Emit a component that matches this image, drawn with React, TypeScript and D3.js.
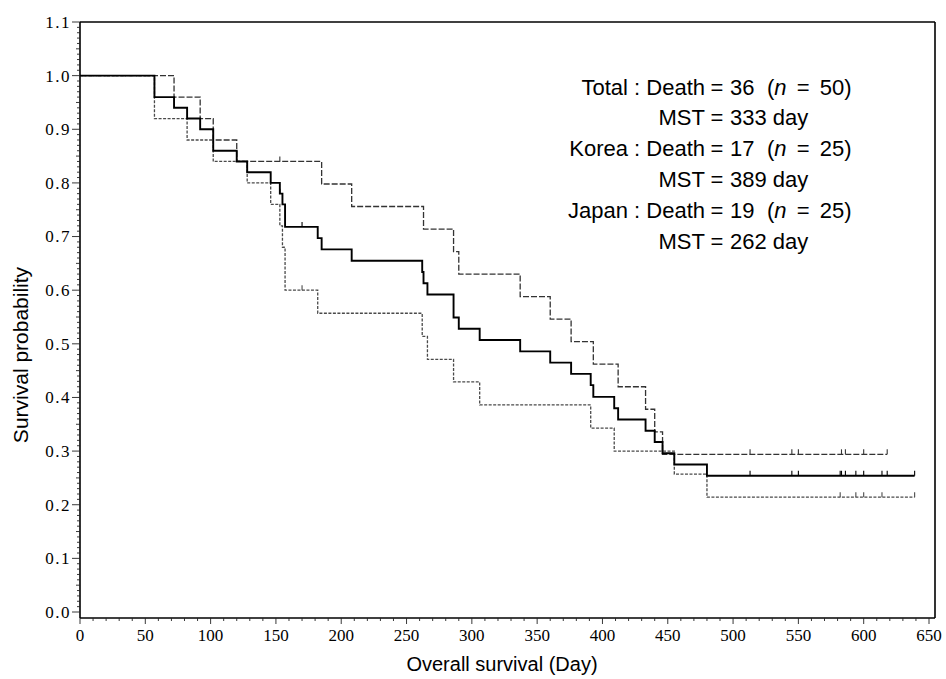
import React from 'react';
import * as d3 from 'd3';

// Kaplan-Meier steps (day, survival after the event)
const koreaDays = [0, 72, 92, 102, 120, 185, 208, 263, 286, 290, 337, 360, 376, 393, 412, 433, 440, 446, 618];
const koreaSurv = [1, 0.96, 0.92, 0.88, 0.84, 0.798, 0.756, 0.714, 0.672, 0.63, 0.588, 0.546, 0.504, 0.462, 0.42, 0.378, 0.336, 0.294, 0.294];
const koreaCensor = [153, 513, 545, 550, 583, 586, 600, 618];

const japanDays = [0, 57, 82, 102, 128, 146, 153, 155, 157, 182, 262, 266, 286, 306, 391, 409, 455, 480, 639];
const japanSurv = [1, 0.92, 0.88, 0.84, 0.8, 0.76, 0.72, 0.68, 0.6, 0.557, 0.514, 0.471, 0.429, 0.386, 0.343, 0.3, 0.257, 0.214, 0.214];
const japanCensor = [170, 582, 594, 600, 614, 639];

const totalDays = [0, 57, 72, 82, 92, 102, 120, 128, 146, 153, 155, 157, 182, 185, 208, 262, 263, 266, 286, 290, 306, 337, 360, 376, 391, 393, 409, 412, 433, 440, 446, 455, 480, 639];
const totalSurv = [1, 0.96, 0.94, 0.92, 0.9, 0.86, 0.84, 0.82, 0.8, 0.78, 0.76, 0.718, 0.697, 0.676, 0.655, 0.634, 0.613, 0.592, 0.549, 0.528, 0.507, 0.486, 0.465, 0.444, 0.423, 0.401, 0.38, 0.359, 0.338, 0.317, 0.296, 0.275, 0.254, 0.254];
const totalCensor = [153, 170, 513, 545, 550, 582, 583, 586, 594, 600, 614, 618, 639];

const xTicks = [0, 50, 100, 150, 200, 250, 300, 350, 400, 450, 500, 550, 600, 650];
const yTicks = [0, 0.1, 0.2, 0.3, 0.4, 0.5, 0.6, 0.7, 0.8, 0.9, 1.0, 1.1];

const groupNames = ['Total', 'Korea', 'Japan'];
const groupDeaths = [36, 17, 19];
const groupN = [50, 25, 25];
const groupMST = [333, 389, 262];

const W = 946, H = 679;
const left = 80, right = 929, top = 22, zeroY = 612, axisY = 618, frameRight = 935;

const serif = '"Liberation Serif", "DejaVu Serif", serif';
const sans = '"Liberation Sans", Arial, sans-serif';

export default function App() {
  const x = d3.scaleLinear().domain([0, 650]).range([left, right]);
  const y = d3.scaleLinear().domain([0, 1.1]).range([zeroY, top]);

  const line = d3.line<[number, number]>()
    .x(d => x(d[0]))
    .y(d => y(d[1]))
    .curve(d3.curveStepAfter);

  const survAt = (days: number[], surv: number[], t: number) => {
    let s = surv[0];
    days.forEach((d, i) => { if (d <= t) s = surv[i]; });
    return s;
  };

  const series = [
    { days: japanDays, surv: japanSurv, censor: japanCensor, color: '#4a4a4a', width: 1.3, dash: '3,1.5' },
    { days: koreaDays, surv: koreaSurv, censor: koreaCensor, color: '#333', width: 1.3, dash: '6,2' },
    { days: totalDays, surv: totalSurv, censor: totalCensor, color: '#000', width: 1.9, dash: null },
  ];

  const yMinor = d3.range(0, 111).map(i => i / 100);
  const xMinor = d3.range(0, 651, 10);

  const rowY = [95, 125, 156, 187, 218, 249];
  const eqX = 717;

  return (
    <svg width={W} height={H} style={{ display: 'block', position: 'absolute', left: 0, top: 0, background: '#fff' }}>
      <rect width={W} height={H} fill="#fff" />

      {/* frame */}
      <line x1={left} x2={frameRight} y1={top} y2={top} stroke="#000" strokeWidth={1.6} />
      <line x1={frameRight} x2={frameRight} y1={top} y2={axisY} stroke="#000" strokeWidth={1.6} />
      <line x1={left} x2={left} y1={top} y2={axisY} stroke="#000" strokeWidth={1.6} />
      <line x1={left} x2={frameRight} y1={axisY} y2={axisY} stroke="#000" strokeWidth={1.6} />

      {/* y ticks */}
      {yMinor.map((v, i) => (
        <line key={'ym' + i} x1={left - (i % 10 === 0 ? 8 : i % 5 === 0 ? 4 : 3)} x2={left} y1={y(v)} y2={y(v)}
          stroke="#222" strokeWidth={0.9} />
      ))}
      {yTicks.map(v => (
        <text key={'yt' + v} x={left - 9} y={y(v)} dy="0.35em" textAnchor="end" fontFamily={serif}
          fontSize={17} letterSpacing={1.5} fill="#000">{d3.format('.1f')(v)}</text>
      ))}

      {/* x ticks */}
      {xMinor.map(d => (
        <line key={'xm' + d} x1={x(d)} x2={x(d)} y1={axisY} y2={axisY + (d % 50 === 0 ? 6 : 3)}
          stroke="#222" strokeWidth={0.9} />
      ))}
      {xTicks.map(d => (
        <text key={'xt' + d} x={x(d)} y={641} textAnchor="middle" fontFamily={serif} fontSize={17} fill="#000">{d}</text>
      ))}

      {/* curves */}
      {series.map((s, k) => {
        const pts = s.days.map((d, i) => [d, s.surv[i]] as [number, number]);
        return (
          <g key={'s' + k}>
            <path d={line(pts) || ''} fill="none" stroke={s.color} strokeWidth={s.width}
              strokeDasharray={s.dash || undefined} />
            {s.censor.map((c, j) => {
              const v = survAt(s.days, s.surv, c);
              return <line key={j} x1={x(c)} x2={x(c)} y1={y(v)} y2={y(v) - 5} stroke={s.color} strokeWidth={1.1} />;
            })}
          </g>
        );
      })}

      {/* annotation */}
      {groupNames.map((g, i) => (
        <g key={'a' + g} fontFamily={sans} fontSize={22} fill="#000">
          <text x={eqX - 12} y={rowY[i * 2]} textAnchor="end">{g} : Death</text>
          <text x={eqX} y={rowY[i * 2]} textAnchor="middle">=</text>
          <text x={eqX + 13} y={rowY[i * 2]}>{groupDeaths[i]}</text>
          <text x={767} y={rowY[i * 2]} wordSpacing={4}>
            (<tspan fontStyle="italic">n</tspan> = {groupN[i]})
          </text>
          <text x={eqX - 12} y={rowY[i * 2 + 1]} textAnchor="end">MST</text>
          <text x={eqX} y={rowY[i * 2 + 1]} textAnchor="middle">=</text>
          <text x={eqX + 13} y={rowY[i * 2 + 1]}>{groupMST[i]} day</text>
        </g>
      ))}

      {/* axis titles */}
      <text transform={`translate(28,355) rotate(-90)`} textAnchor="middle" fontFamily={sans} fontSize={21} fill="#000">
        Survival probability
      </text>
      <text x={502} y={671} textAnchor="middle" fontFamily={sans} fontSize={20} fill="#000">Overall survival (Day)</text>
    </svg>
  );
}
